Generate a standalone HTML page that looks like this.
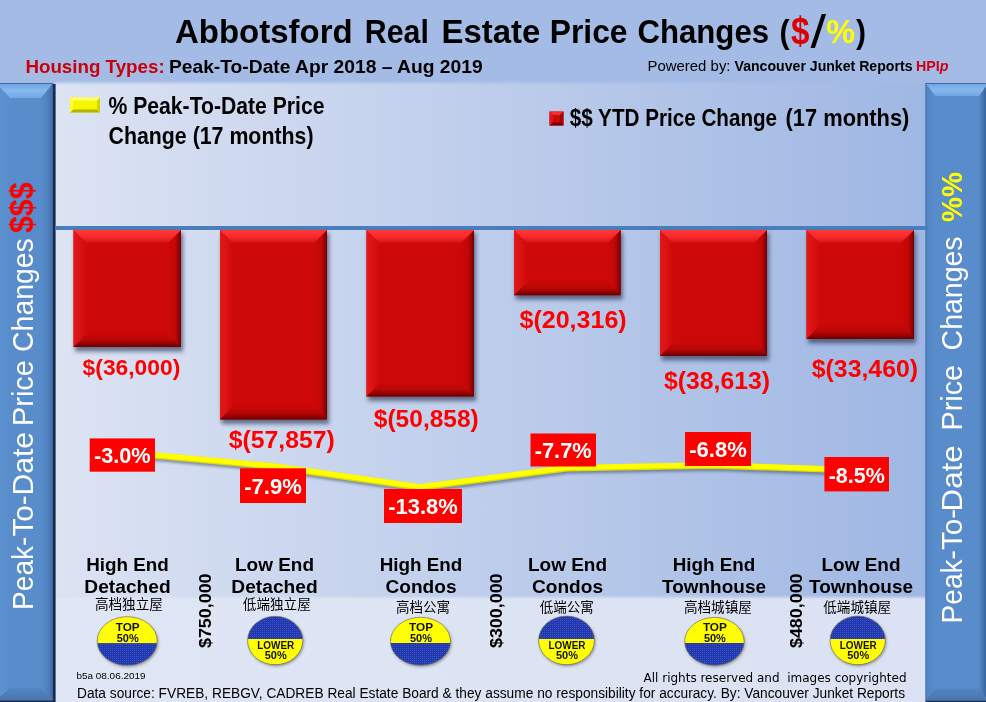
<!DOCTYPE html>
<html><head><meta charset="utf-8"><title>Abbotsford Real Estate Price Changes</title>
<style>
html,body{margin:0;padding:0;background:#a3bbe5;}
body{width:986px;height:702px;overflow:hidden;position:relative;font-family:"Liberation Sans","Noto Sans CJK SC",sans-serif;}
svg{position:absolute;left:0;top:0;display:block}
text{font-family:"Liberation Sans","Noto Sans CJK SC",sans-serif;}
.b{font-weight:bold}
.i{font-style:italic}
.cj{font-family:"Liberation Sans","Noto Sans CJK SC",sans-serif;font-weight:400}
.dv{font-family:"DejaVu Sans","Liberation Sans",sans-serif}
</style></head><body>
<svg width="986" height="702" viewBox="0 0 986 702">
<defs>
<linearGradient id="gplot" x1="0" x2="1" y1="0" y2="0"><stop offset="0" stop-color="#dce3f3"/><stop offset="1" stop-color="#9fb7e3"/></linearGradient>
<linearGradient id="bt" x1="0" x2="0" y1="0" y2="1"><stop offset="0" stop-color="#ff3838"/><stop offset="0.55" stop-color="#f42a2a"/><stop offset="1" stop-color="#d60e0e"/></linearGradient>
<linearGradient id="bb" x1="0" x2="0" y1="0" y2="1"><stop offset="0" stop-color="#c80808"/><stop offset="0.45" stop-color="#ba0606"/><stop offset="0.72" stop-color="#980303"/><stop offset="1" stop-color="#680000"/></linearGradient>
<linearGradient id="bl" x1="0" x2="1" y1="0" y2="0"><stop offset="0" stop-color="#e41a1a"/><stop offset="1" stop-color="#cf0909"/></linearGradient>
<linearGradient id="br" x1="0" x2="1" y1="0" y2="0"><stop offset="0" stop-color="#cd0808"/><stop offset="0.5" stop-color="#c40707"/><stop offset="0.72" stop-color="#a80505"/><stop offset="1" stop-color="#720000"/></linearGradient>
<linearGradient id="st" x1="0" x2="0" y1="0" y2="1"><stop offset="0" stop-color="#6ea2e0"/><stop offset="0.5" stop-color="#86b8f0"/><stop offset="1" stop-color="#74a8e2"/></linearGradient>
<linearGradient id="sb" x1="0" x2="0" y1="0" y2="1"><stop offset="0" stop-color="#5385c3"/><stop offset="1" stop-color="#4975ab"/></linearGradient>
<linearGradient id="slL" x1="0" x2="1" y1="0" y2="0"><stop offset="0" stop-color="#6095d3"/><stop offset="1" stop-color="#588cca"/></linearGradient>
<linearGradient id="srL" x1="0" x2="1" y1="0" y2="0"><stop offset="0" stop-color="#578bc9"/><stop offset="0.45" stop-color="#5184c1"/><stop offset="0.8" stop-color="#4877b1"/><stop offset="1" stop-color="#3c6498"/></linearGradient>
<linearGradient id="slR" x1="0" x2="1" y1="0" y2="0"><stop offset="0" stop-color="#4171b3"/><stop offset="0.2" stop-color="#5386c5"/><stop offset="1" stop-color="#588cca"/></linearGradient>
<linearGradient id="srR" x1="0" x2="1" y1="0" y2="0"><stop offset="0" stop-color="#568ac8"/><stop offset="1" stop-color="#335a90"/></linearGradient>
<filter id="sh4" x="-50%" y="-5%" width="200%" height="110%"><feGaussianBlur stdDeviation="0.6"/></filter>
<filter id="sh2" x="-10%" y="-10%" width="130%" height="130%"><feGaussianBlur stdDeviation="1"/></filter>
<linearGradient id="gbot" x1="0" x2="1" y1="0" y2="0"><stop offset="0" stop-color="#dfe6f5"/><stop offset="1" stop-color="#dae2f3"/></linearGradient>
<linearGradient id="gm1" gradientUnits="userSpaceOnUse" x1="0" x2="0" y1="80.5" y2="85"><stop offset="0" stop-color="#000"/><stop offset="1" stop-color="#fff"/></linearGradient>
<linearGradient id="gm2" gradientUnits="userSpaceOnUse" x1="0" x2="0" y1="595.3" y2="599.3"><stop offset="0" stop-color="#000"/><stop offset="1" stop-color="#fff"/></linearGradient>
<mask id="mtop" maskUnits="userSpaceOnUse" x="0" y="0" width="986" height="702"><rect x="0" y="0" width="986" height="702" fill="url(#gm1)"/></mask>
<mask id="mbot" maskUnits="userSpaceOnUse" x="0" y="0" width="986" height="702"><rect x="0" y="0" width="986" height="702" fill="url(#gm2)"/></mask>
<filter id="sh3" x="-10%" y="-10%" width="130%" height="130%"><feGaussianBlur stdDeviation="2.2"/></filter>
<filter id="sh" x="-10%" y="-10%" width="130%" height="130%"><feGaussianBlur stdDeviation="1.8"/></filter>
<pattern id="dots" width="2" height="2" patternUnits="userSpaceOnUse"><rect width="2" height="2" fill="#2138b0"/><rect width="1" height="1" fill="#3a52c4"/></pattern>
</defs>
<rect x="0" y="0" width="986" height="702" fill="#a3bbe5"/>
<rect x="55" y="80" width="873" height="622" fill="url(#gplot)" mask="url(#mtop)"/>
<rect x="55" y="595" width="873" height="107" fill="url(#gbot)" mask="url(#mbot)"/>

<rect x="52" y="84" width="3.6" height="619.8" fill="#182a52" filter="url(#sh4)"/>
<rect x="-4" y="699.3" width="57" height="4" fill="#1c2c54" filter="url(#sh4)"/>
<rect x="-4" y="83" width="57" height="617.3" fill="#588cca"/>
<polygon points="-4,83 10,98 10,688.3 -4,700.3" fill="url(#slL)"/>
<polygon points="53,83 41,98 41,688.3 53,700.3" fill="url(#srL)"/>
<polygon points="-4,83 53,83 41,98 10,98" fill="url(#st)"/>
<polygon points="-4,700.3 53,700.3 41,688.3 10,688.3" fill="url(#sb)"/>
<rect x="-4" y="83" width="57" height="1" fill="#3f6ca8"/>
<rect x="925.5" y="699.4" width="62.5" height="4" fill="#1c2c54" filter="url(#sh4)"/>
<rect x="925.5" y="83" width="62.5" height="617.4" fill="#588cca"/>
<polygon points="925.5,83 935.5,96 935.5,688.4 925.5,700.4" fill="url(#slR)"/>
<polygon points="988,83 979,96 979,688.4 988,700.4" fill="url(#srR)"/>
<polygon points="925.5,83 988,83 979,96 935.5,96" fill="url(#st)"/>
<polygon points="925.5,700.4 988,700.4 979,688.4 935.5,688.4" fill="url(#sb)"/>
<rect x="925.5" y="83" width="62.5" height="1" fill="#3f6ca8"/>
<rect x="55" y="226" width="873" height="4" fill="#4a7ebb"/>
<rect x="75.0" y="233" width="108.0" height="118.5" fill="#2a3654" opacity="0.65" filter="url(#sh3)"/>
<rect x="73.5" y="230" width="107.5" height="117" fill="#cd0808"/>
<polygon points="73.5,230 86.5,243 86.5,334 73.5,347" fill="url(#bl)"/>
<polygon points="181,230 168,243 168,334 181,347" fill="url(#br)"/>
<polygon points="73.5,230 181,230 168,243 86.5,243" fill="url(#bt)"/>
<polygon points="73.5,347 181,347 168,334 86.5,334" fill="url(#bb)"/>
<text x="82.6" y="375.3" class="b" font-size="22" fill="#ff0000" textLength="97.7" lengthAdjust="spacingAndGlyphs">$(36,000)</text>
<rect x="221.5" y="233" width="107.5" height="191.0" fill="#2a3654" opacity="0.65" filter="url(#sh3)"/>
<rect x="220" y="230" width="107" height="189.5" fill="#cd0808"/>
<polygon points="220,230 233,243 233,406.5 220,419.5" fill="url(#bl)"/>
<polygon points="327,230 314,243 314,406.5 327,419.5" fill="url(#br)"/>
<polygon points="220,230 327,230 314,243 233,243" fill="url(#bt)"/>
<polygon points="220,419.5 327,419.5 314,406.5 233,406.5" fill="url(#bb)"/>
<text x="228.7" y="447.6" class="b" font-size="24" fill="#ff0000" textLength="106.1" lengthAdjust="spacingAndGlyphs">$(57,857)</text>
<rect x="368.0" y="233" width="108.0" height="168.0" fill="#2a3654" opacity="0.65" filter="url(#sh3)"/>
<rect x="366.5" y="230" width="107.5" height="166.5" fill="#cd0808"/>
<polygon points="366.5,230 379.5,243 379.5,383.5 366.5,396.5" fill="url(#bl)"/>
<polygon points="474,230 461,243 461,383.5 474,396.5" fill="url(#br)"/>
<polygon points="366.5,230 474,230 461,243 379.5,243" fill="url(#bt)"/>
<polygon points="366.5,396.5 474,396.5 461,383.5 379.5,383.5" fill="url(#bb)"/>
<text x="373.8" y="426.5" class="b" font-size="24" fill="#ff0000" textLength="105.0" lengthAdjust="spacingAndGlyphs">$(50,858)</text>
<rect x="515.5" y="233" width="107.20000000000005" height="66.69999999999999" fill="#2a3654" opacity="0.65" filter="url(#sh3)"/>
<rect x="514" y="230" width="106.70000000000005" height="65.19999999999999" fill="#cd0808"/>
<polygon points="514,230 527,243 527,282.2 514,295.2" fill="url(#bl)"/>
<polygon points="620.7,230 607.7,243 607.7,282.2 620.7,295.2" fill="url(#br)"/>
<polygon points="514,230 620.7,230 607.7,243 527,243" fill="url(#bt)"/>
<polygon points="514,295.2 620.7,295.2 607.7,282.2 527,282.2" fill="url(#bb)"/>
<text x="519.5" y="327.9" class="b" font-size="24" fill="#ff0000" textLength="107.2" lengthAdjust="spacingAndGlyphs">$(20,316)</text>
<rect x="661.5" y="233" width="107.5" height="127.5" fill="#2a3654" opacity="0.65" filter="url(#sh3)"/>
<rect x="660" y="230" width="107" height="126" fill="#cd0808"/>
<polygon points="660,230 673,243 673,343 660,356" fill="url(#bl)"/>
<polygon points="767,230 754,243 754,343 767,356" fill="url(#br)"/>
<polygon points="660,230 767,230 754,243 673,243" fill="url(#bt)"/>
<polygon points="660,356 767,356 754,343 673,343" fill="url(#bb)"/>
<text x="664" y="389" class="b" font-size="24" fill="#ff0000" textLength="106.1" lengthAdjust="spacingAndGlyphs">$(38,613)</text>
<rect x="808.0" y="233" width="108.0" height="110.5" fill="#2a3654" opacity="0.65" filter="url(#sh3)"/>
<rect x="806.5" y="230" width="107.5" height="109" fill="#cd0808"/>
<polygon points="806.5,230 819.5,243 819.5,326 806.5,339" fill="url(#bl)"/>
<polygon points="914,230 901,243 901,326 914,339" fill="url(#br)"/>
<polygon points="806.5,230 914,230 901,243 819.5,243" fill="url(#bt)"/>
<polygon points="806.5,339 914,339 901,326 819.5,326" fill="url(#bb)"/>
<text x="811.8" y="377" class="b" font-size="24" fill="#ff0000" textLength="106.2" lengthAdjust="spacingAndGlyphs">$(33,460)</text>
<text x="175.0" y="42.5" class="b" font-size="33.5" fill="#000" textLength="177.6" lengthAdjust="spacingAndGlyphs">Abbotsford</text>
<text x="364.8" y="42.5" class="b" font-size="33.5" fill="#000" textLength="64.0" lengthAdjust="spacingAndGlyphs">Real</text>
<text x="441.6" y="42.5" class="b" font-size="33.5" fill="#000" textLength="98.8" lengthAdjust="spacingAndGlyphs">Estate</text>
<text x="549.8" y="42.5" class="b" font-size="33.5" fill="#000" textLength="77.7" lengthAdjust="spacingAndGlyphs">Price</text>
<text x="637.4" y="42.5" class="b" font-size="33.5" fill="#000" textLength="131.7" lengthAdjust="spacingAndGlyphs">Changes</text>
<text x="779.4" y="42.5" class="b" font-size="33.5" fill="#000" textLength="10.1" lengthAdjust="spacingAndGlyphs">(</text>
<text x="826.3" y="42.5" class="b" font-size="33.5" fill="#ffff00" textLength="28.8" lengthAdjust="spacingAndGlyphs">%</text>
<text x="856.1" y="42.5" class="b" font-size="33.5" fill="#000" textLength="10.0" lengthAdjust="spacingAndGlyphs">)</text>
<text x="810.4" y="48.2" font-size="45.8" fill="#000" textLength="15.6" lengthAdjust="spacingAndGlyphs">/</text>
<text x="791" y="43.8" class="b" font-size="39" fill="#dc0000" textLength="18.5" lengthAdjust="spacingAndGlyphs">$</text>
<text x="25.4" y="72.5" class="b" font-size="18.2" fill="#c9000c" textLength="139.3" lengthAdjust="spacingAndGlyphs">Housing Types:</text>
<text x="168.9" y="72.5" class="b" font-size="18.2" fill="#000" textLength="313.8" lengthAdjust="spacingAndGlyphs">Peak-To-Date Apr 2018 – Aug 2019</text>
<text x="647.5" y="70.5" font-size="14.4" fill="#000" textLength="83.0" lengthAdjust="spacingAndGlyphs">Powered by:</text>
<text x="734.5" y="70.5" class="b" font-size="14.4" fill="#000" textLength="178.0" lengthAdjust="spacingAndGlyphs">Vancouver Junket Reports</text>
<text x="916" y="70.5" class="b" font-size="14.4" fill="#d00010" textLength="32.5" lengthAdjust="spacingAndGlyphs">HPI<tspan class="i">p</tspan></text>
<rect x="70" y="97.5" width="30" height="15" fill="#f6f600"/><polygon points="70,97.5 100,97.5 97,100.5 73,100.5" fill="#ffff70"/><polygon points="70,112.5 100,112.5 97,109.5 73,109.5" fill="#b4b400"/><polygon points="100,97.5 100,112.5 97,109.5 97,100.5" fill="#d4d400"/><polygon points="70,97.5 70,112.5 73,109.5 73,100.5" fill="#ffff30"/>
<text x="108.5" y="114" class="b" font-size="24" fill="#000" textLength="216" lengthAdjust="spacingAndGlyphs">% Peak-To-Date Price</text>
<text x="108.5" y="144" class="b" font-size="24" fill="#000" textLength="205" lengthAdjust="spacingAndGlyphs">Change (17 months)</text>
<rect x="549.5" y="111.5" width="14" height="14" fill="#cc0808"/><polygon points="549.5,111.5 563.5,111.5 560,115 553,115" fill="#f03030"/><polygon points="549.5,125.5 563.5,125.5 560,122 553,122" fill="#800000"/><polygon points="563.5,111.5 563.5,125.5 560,122 560,115" fill="#a40404"/><polygon points="549.5,111.5 549.5,125.5 553,122 553,115" fill="#dc1818"/>
<text x="569.8" y="125.5" class="b" font-size="24" fill="#000" textLength="207.3" lengthAdjust="spacingAndGlyphs">$$ YTD Price Change</text>
<text x="785.6" y="125.5" class="b" font-size="24" fill="#000" textLength="123.8" lengthAdjust="spacingAndGlyphs">(17 months)</text>
<path d="M127,453 L273.5,466.5 L420,487.5 L566.5,468.3 L713.5,465.5 L860,470.5" fill="none" stroke="#46526f" stroke-width="5" opacity="0.6" transform="translate(1.5,3)" filter="url(#sh)"/>
<path d="M127,453 L273.5,466.5 L420,487.5 L566.5,468.3 L713.5,465.5 L860,470.5" fill="none" stroke="#dede00" stroke-width="6.4" stroke-linejoin="miter"/>
<path d="M127,453 L273.5,466.5 L420,487.5 L566.5,468.3 L713.5,465.5 L860,470.5" fill="none" stroke="#ffff00" stroke-width="5" stroke-linejoin="miter" transform="translate(0,-0.7)"/>
<rect x="89.7" y="438.4" width="65.3" height="33.3" fill="#ff0000"/>
<text x="122.3" y="463.3" class="b" font-size="21.6" fill="#fff" text-anchor="middle" textLength="56.8" lengthAdjust="spacingAndGlyphs">-3.0%</text>
<rect x="240" y="468.3" width="66" height="34.7" fill="#ff0000"/>
<text x="273.0" y="493.9" class="b" font-size="21.6" fill="#fff" text-anchor="middle" textLength="57.5" lengthAdjust="spacingAndGlyphs">-7.9%</text>
<rect x="384" y="489" width="78" height="34" fill="#ff0000"/>
<text x="423.0" y="514.3" class="b" font-size="21.6" fill="#fff" text-anchor="middle" textLength="69.5" lengthAdjust="spacingAndGlyphs">-13.8%</text>
<rect x="530.5" y="433.5" width="65.5" height="33.0" fill="#ff0000"/>
<text x="563.2" y="458.3" class="b" font-size="21.6" fill="#fff" text-anchor="middle" textLength="57.0" lengthAdjust="spacingAndGlyphs">-7.7%</text>
<rect x="685" y="432" width="66" height="34" fill="#ff0000"/>
<text x="718.0" y="457.3" class="b" font-size="21.6" fill="#fff" text-anchor="middle" textLength="57.5" lengthAdjust="spacingAndGlyphs">-6.8%</text>
<rect x="824.4" y="457" width="64.6" height="34.4" fill="#ff0000"/>
<text x="856.7" y="482.5" class="b" font-size="21.6" fill="#fff" text-anchor="middle" textLength="56.1" lengthAdjust="spacingAndGlyphs">-8.5%</text>
<text x="127.5" y="571" class="b" font-size="18.67" fill="#000" text-anchor="middle" textLength="82.7" lengthAdjust="spacingAndGlyphs">High End</text>
<text x="127.5" y="593" class="b" font-size="18.67" fill="#000" text-anchor="middle" textLength="86.3" lengthAdjust="spacingAndGlyphs">Detached</text>
<text x="128.9" y="609.3" class="cj" font-size="13.6" fill="#000" text-anchor="middle" textLength="68" lengthAdjust="spacingAndGlyphs">高档独立屋</text>
<text x="274.5" y="571" class="b" font-size="18.67" fill="#000" text-anchor="middle" textLength="79" lengthAdjust="spacingAndGlyphs">Low End</text>
<text x="274.5" y="593" class="b" font-size="18.67" fill="#000" text-anchor="middle" textLength="86.3" lengthAdjust="spacingAndGlyphs">Detached</text>
<text x="276.8" y="609.3" class="cj" font-size="13.6" fill="#000" text-anchor="middle" textLength="68" lengthAdjust="spacingAndGlyphs">低端独立屋</text>
<text x="421" y="571" class="b" font-size="18.67" fill="#000" text-anchor="middle" textLength="82.7" lengthAdjust="spacingAndGlyphs">High End</text>
<text x="421" y="593" class="b" font-size="18.67" fill="#000" text-anchor="middle" textLength="71" lengthAdjust="spacingAndGlyphs">Condos</text>
<text x="423" y="611.6" class="cj" font-size="13.6" fill="#000" text-anchor="middle" textLength="54" lengthAdjust="spacingAndGlyphs">高档公寓</text>
<text x="567.5" y="571" class="b" font-size="18.67" fill="#000" text-anchor="middle" textLength="79" lengthAdjust="spacingAndGlyphs">Low End</text>
<text x="567.5" y="593" class="b" font-size="18.67" fill="#000" text-anchor="middle" textLength="71" lengthAdjust="spacingAndGlyphs">Condos</text>
<text x="566.7" y="611.6" class="cj" font-size="13.6" fill="#000" text-anchor="middle" textLength="54" lengthAdjust="spacingAndGlyphs">低端公寓</text>
<text x="714" y="571" class="b" font-size="18.67" fill="#000" text-anchor="middle" textLength="82.7" lengthAdjust="spacingAndGlyphs">High End</text>
<text x="714" y="593" class="b" font-size="18.67" fill="#000" text-anchor="middle" textLength="104" lengthAdjust="spacingAndGlyphs">Townhouse</text>
<text x="717.9" y="611.6" class="cj" font-size="13.6" fill="#000" text-anchor="middle" textLength="68" lengthAdjust="spacingAndGlyphs">高档城镇屋</text>
<text x="861" y="571" class="b" font-size="18.67" fill="#000" text-anchor="middle" textLength="79" lengthAdjust="spacingAndGlyphs">Low End</text>
<text x="861" y="593" class="b" font-size="18.67" fill="#000" text-anchor="middle" textLength="104" lengthAdjust="spacingAndGlyphs">Townhouse</text>
<text x="857.2" y="611.6" class="cj" font-size="13.6" fill="#000" text-anchor="middle" textLength="68" lengthAdjust="spacingAndGlyphs">低端城镇屋</text>
<clipPath id="ce0"><ellipse cx="127.2" cy="641" rx="30" ry="24.3"/></clipPath>
<ellipse cx="128.2" cy="642.5" rx="30" ry="24.3" fill="#555" opacity="0.6" filter="url(#sh)"/>
<g clip-path="url(#ce0)"><rect x="97.2" y="616.7" width="60" height="26.5" fill="#ffff00"/><rect x="97.2" y="643.2" width="60" height="22.09999999999991" fill="url(#dots)"/></g>
<text x="127.7" y="631.3" class="b" font-size="11.2" fill="#111" text-anchor="middle" textLength="24" lengthAdjust="spacingAndGlyphs">TOP</text>
<text x="127.7" y="641.5" class="b" font-size="11.2" fill="#111" text-anchor="middle" textLength="22" lengthAdjust="spacingAndGlyphs">50%</text>
<ellipse cx="127.2" cy="641" rx="30" ry="24.3" fill="none" stroke="#6a6a50" stroke-width="0.8" opacity="0.8"/>
<clipPath id="ce1"><ellipse cx="275.2" cy="640.5" rx="27.6" ry="24.2"/></clipPath>
<ellipse cx="276.2" cy="642.0" rx="27.6" ry="24.2" fill="#555" opacity="0.6" filter="url(#sh)"/>
<g clip-path="url(#ce1)"><rect x="247.6" y="616.3" width="55.2" height="22.700000000000045" fill="url(#dots)"/><rect x="247.6" y="639" width="55.2" height="25.700000000000045" fill="#ffff00"/></g>
<text x="275.7" y="649" class="b" font-size="11.2" fill="#111" text-anchor="middle" textLength="37" lengthAdjust="spacingAndGlyphs">LOWER</text>
<text x="275.7" y="659.3" class="b" font-size="11.2" fill="#111" text-anchor="middle" textLength="22" lengthAdjust="spacingAndGlyphs">50%</text>
<ellipse cx="275.2" cy="640.5" rx="27.6" ry="24.2" fill="none" stroke="#6a6a50" stroke-width="0.8" opacity="0.8"/>
<clipPath id="ce2"><ellipse cx="420.5" cy="641.3" rx="30" ry="24"/></clipPath>
<ellipse cx="421.5" cy="642.8" rx="30" ry="24" fill="#555" opacity="0.6" filter="url(#sh)"/>
<g clip-path="url(#ce2)"><rect x="390.5" y="617.3" width="60" height="25.700000000000045" fill="#ffff00"/><rect x="390.5" y="643" width="60" height="22.299999999999955" fill="url(#dots)"/></g>
<text x="421.0" y="631.3" class="b" font-size="11.2" fill="#111" text-anchor="middle" textLength="24" lengthAdjust="spacingAndGlyphs">TOP</text>
<text x="421.0" y="641.5" class="b" font-size="11.2" fill="#111" text-anchor="middle" textLength="22" lengthAdjust="spacingAndGlyphs">50%</text>
<ellipse cx="420.5" cy="641.3" rx="30" ry="24" fill="none" stroke="#6a6a50" stroke-width="0.8" opacity="0.8"/>
<clipPath id="ce3"><ellipse cx="566.5" cy="640.4" rx="27.9" ry="24.3"/></clipPath>
<ellipse cx="567.5" cy="641.9" rx="27.9" ry="24.3" fill="#555" opacity="0.6" filter="url(#sh)"/>
<g clip-path="url(#ce3)"><rect x="538.6" y="616.1" width="55.8" height="22.899999999999977" fill="url(#dots)"/><rect x="538.6" y="639" width="55.8" height="25.699999999999932" fill="#ffff00"/></g>
<text x="567.0" y="649" class="b" font-size="11.2" fill="#111" text-anchor="middle" textLength="37" lengthAdjust="spacingAndGlyphs">LOWER</text>
<text x="567.0" y="659.3" class="b" font-size="11.2" fill="#111" text-anchor="middle" textLength="22" lengthAdjust="spacingAndGlyphs">50%</text>
<ellipse cx="566.5" cy="640.4" rx="27.9" ry="24.3" fill="none" stroke="#6a6a50" stroke-width="0.8" opacity="0.8"/>
<clipPath id="ce4"><ellipse cx="714.4" cy="641.4" rx="29.7" ry="24"/></clipPath>
<ellipse cx="715.4" cy="642.9" rx="29.7" ry="24" fill="#555" opacity="0.6" filter="url(#sh)"/>
<g clip-path="url(#ce4)"><rect x="684.6999999999999" y="617.4" width="59.4" height="25.600000000000023" fill="#ffff00"/><rect x="684.6999999999999" y="643" width="59.4" height="22.399999999999977" fill="url(#dots)"/></g>
<text x="714.9" y="631.3" class="b" font-size="11.2" fill="#111" text-anchor="middle" textLength="24" lengthAdjust="spacingAndGlyphs">TOP</text>
<text x="714.9" y="641.5" class="b" font-size="11.2" fill="#111" text-anchor="middle" textLength="22" lengthAdjust="spacingAndGlyphs">50%</text>
<ellipse cx="714.4" cy="641.4" rx="29.7" ry="24" fill="none" stroke="#6a6a50" stroke-width="0.8" opacity="0.8"/>
<clipPath id="ce5"><ellipse cx="857.7" cy="640.4" rx="27.6" ry="24.3"/></clipPath>
<ellipse cx="858.7" cy="641.9" rx="27.6" ry="24.3" fill="#555" opacity="0.6" filter="url(#sh)"/>
<g clip-path="url(#ce5)"><rect x="830.1" y="616.1" width="55.2" height="22.899999999999977" fill="url(#dots)"/><rect x="830.1" y="639" width="55.2" height="25.699999999999932" fill="#ffff00"/></g>
<text x="858.2" y="649" class="b" font-size="11.2" fill="#111" text-anchor="middle" textLength="37" lengthAdjust="spacingAndGlyphs">LOWER</text>
<text x="858.2" y="659.3" class="b" font-size="11.2" fill="#111" text-anchor="middle" textLength="22" lengthAdjust="spacingAndGlyphs">50%</text>
<ellipse cx="857.7" cy="640.4" rx="27.6" ry="24.3" fill="none" stroke="#6a6a50" stroke-width="0.8" opacity="0.8"/>
<text transform="translate(210.8,648) rotate(-90)" class="b" font-size="17" textLength="74.5" lengthAdjust="spacingAndGlyphs">$750,000</text>
<text transform="translate(501.6,648) rotate(-90)" class="b" font-size="17" textLength="74.5" lengthAdjust="spacingAndGlyphs">$300,000</text>
<text transform="translate(801.5,648) rotate(-90)" class="b" font-size="17" textLength="74.5" lengthAdjust="spacingAndGlyphs">$480,000</text>
<text x="76.5" y="679.3" font-size="9.4" fill="#000" textLength="69" lengthAdjust="spacingAndGlyphs">b5a 08.06.2019</text>
<text x="643.5" y="681.5" class="dv" font-size="12" fill="#000" textLength="263" lengthAdjust="spacingAndGlyphs" xml:space="preserve" style="white-space:pre">All rights reserved and  images copyrighted</text>
<text x="77" y="697.6" font-size="13.8" fill="#000" textLength="828" lengthAdjust="spacingAndGlyphs">Data source: FVREB, REBGV, CADREB Real Estate Board &amp; they assume no responsibility for accuracy. By: Vancouver Junket Reports</text>
<text transform="translate(33,609.9) rotate(-90)" font-size="28.6" fill="#fff" textLength="73.3" lengthAdjust="spacingAndGlyphs">Peak-</text>
<text transform="translate(33,536.6) rotate(-90)" font-size="28.6" fill="#fff" textLength="41.2" lengthAdjust="spacingAndGlyphs">To-</text>
<text transform="translate(33,495.6) rotate(-90)" font-size="28.6" fill="#fff" textLength="63.6" lengthAdjust="spacingAndGlyphs">Date</text>
<text transform="translate(962,623.4) rotate(-90)" font-size="28.6" fill="#fff" textLength="73.3" lengthAdjust="spacingAndGlyphs">Peak-</text>
<text transform="translate(962,550.1) rotate(-90)" font-size="28.6" fill="#fff" textLength="41.2" lengthAdjust="spacingAndGlyphs">To-</text>
<text transform="translate(962,511.4) rotate(-90)" font-size="28.6" fill="#fff" textLength="65.9" lengthAdjust="spacingAndGlyphs">Date</text>
<text transform="translate(33,425.9) rotate(-90)" font-size="28.6" fill="#fff" textLength="65.7" lengthAdjust="spacingAndGlyphs">Price</text>
<text transform="translate(33,351.9) rotate(-90)" font-size="28.6" fill="#fff" textLength="113.7" lengthAdjust="spacingAndGlyphs">Changes</text>
<text transform="translate(33,233.0) rotate(-90)" class="b" font-size="32.5" fill="#ff0000" textLength="50.5" lengthAdjust="spacingAndGlyphs">$$$</text>
<text transform="translate(962,430.4) rotate(-90)" font-size="28.6" fill="#fff" textLength="65.5" lengthAdjust="spacingAndGlyphs">Price</text>
<text transform="translate(962,350.4) rotate(-90)" font-size="28.6" fill="#fff" textLength="114.0" lengthAdjust="spacingAndGlyphs">Changes</text>
<text transform="translate(962.3,221.9) rotate(-90)" class="b" font-size="30" fill="#ffff00" textLength="49.8" lengthAdjust="spacingAndGlyphs">%%</text>
</svg></body></html>
